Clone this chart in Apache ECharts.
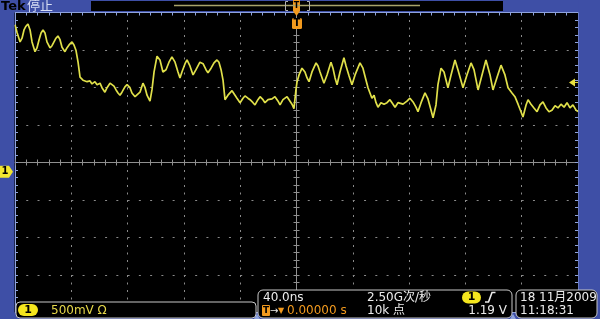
<!DOCTYPE html>
<html>
<head>
<meta charset="utf-8">
<script src="https://cdn.jsdelivr.net/npm/echarts@6/dist/echarts.min.js"></script>
<style>
html,body{margin:0;padding:0;background:#000;}
#c{width:600px;height:319px;}
</style>
</head>
<body>
<div id="c"></div>
<script>
// ---- Channel 1 waveform (time in ns, voltage in V) ----
const timeNs = [
  -200,-198.6,-196.4,-195,-193.6,-192.2,-190.8,-189.3,-187.9,-185.8,-184.4,-182.9,-181.5,-180.1,-178.7,-177.3,-175.1,-173.7,-172.3,-170.9,-169.5,-168,-166.6,-164.5,-163.1,-161.6,-159.5,-158.1,-156.7,-155.2,-153.8,
  -153.1,-151.7,-150.3,-148.8,-146.7,-145.3,-143.2,-141.7,-139.6,-138.2,-136.1,-134.6,-132.5,-131.1,-129.7,-128.2,-126.8,-125.4,-124,-121.9,-120.4,-118.3,-116.9,-114.7,-113.3,-111.2,-109.1,-107.6,-106.2,-104.1,
  -102.7,-101.2,-99.1,-97,-94.9,-92.7,-90.6,-88.5,-86.3,-84.2,-82.8,-81.4,-79.2,-77.8,-75.7,-73.5,-71.4,-68.6,
  -66.4,-64.3,-62.9,-60.7,-58.6,-56.5,-55.1,-53.6,-52.2,-50.8,
  -48.7,-45.8,-43.7,-42.3,-40.1,-38,-36.6,-34.5,-33,-30.9,-29.5,-27.4,-25.9,-23.8,-22.4,-20.2,-17.4,-15.3,-13.1,-11.7,-9.6,-6.7,-4.6,-3.2,-1.8,
  -0.4,0.4,1.8,3.9,6,7.5,8.9,11,13.9,15.3,16.7,19.5,21.7,24.5,25.9,27.4,28.8,30.9,33.7,35.2,37.3,39.4,41.6,45.1,47.2,49.4,50.8,53.6,55.1,56.5,57.9,60,62.2,64.3,66.4,68.6,70,72.1,73.5,
  75.7,78.5,80.6,82.8,84.9,86.3,88.5,91.3,93.4,95.6,97,99.1,100.5,102.7,104.8,107.6,109.8,112.6,114.7,118.3,121.1,124,126.1,129,131.8,134.6,137.5,139.6,142.5,145.3,148.1,150.3,
  153.1,155.2,157.4,159.5,160.9,163.1,164.5,166.6,168.7,170.9,173,175.1,177.3,179.4,181.5,183.7,185.8,187.9,190.1,192.2,194.3,196.4,198.6,200
];
const volts = [
  1.96,1.86,1.73,1.78,1.89,1.94,1.97,1.89,1.73,1.60,1.65,1.76,1.85,1.89,1.85,1.73,1.65,1.68,1.73,1.78,1.81,1.76,1.66,1.60,1.65,1.69,1.73,1.69,1.62,1.46,1.26,
  1.25,1.22,1.24,1.20,1.21,1.17,1.20,1.16,1.18,1.12,1.06,1.12,1.18,1.20,1.14,1.09,1.05,1.02,1.06,1.13,1.16,1.12,1.05,1.00,0.98,1.06,1.18,1.12,1.02,0.94,
  1.09,1.33,1.54,1.49,1.33,1.36,1.46,1.53,1.46,1.33,1.25,1.33,1.44,1.49,1.41,1.29,1.36,1.46,
  1.44,1.36,1.32,1.38,1.45,1.49,1.46,1.36,1.22,0.96,
  1.02,1.08,1.02,0.98,0.92,0.98,1.01,0.98,0.96,0.92,0.89,0.96,1.00,0.96,0.92,0.96,0.97,1.00,0.94,0.89,0.96,1.00,0.94,0.90,0.84,
  1.09,1.20,1.29,1.38,1.33,1.25,1.20,1.33,1.45,1.41,1.33,1.18,1.29,1.46,1.38,1.25,1.16,1.33,1.52,1.41,1.28,1.16,1.29,1.45,1.38,1.22,1.12,0.98,1.02,0.92,0.86,0.92,0.90,0.92,0.96,0.90,0.86,0.92,0.92,
  0.90,0.94,0.98,0.93,0.86,0.80,0.92,1.05,0.97,0.82,0.72,0.89,1.16,1.38,1.33,1.12,1.29,1.49,1.36,1.12,1.29,1.45,1.36,1.09,1.29,1.49,1.29,1.09,1.26,1.42,1.29,1.12,
  1.05,1.00,0.90,0.80,0.73,0.89,0.96,0.90,0.85,0.80,0.89,0.93,0.85,0.80,0.82,0.88,0.85,0.90,0.86,0.92,0.85,0.89,0.82,0.80
];
// ---- scope settings ----
const timePerDiv = 40;      // ns/div
const voltsPerDiv = 0.5;    // V/div
const hDivs = 10, vDivs = 8;
const groundOffsetDiv = 0.245;  // ground marker sits this many divisions below centre
const triggerLevel = 1.19;  // V
const triggerTime = 0;      // ns
// ---- readout texts ----
const topTexts = ['Tek', '停止'];
const chanReadout = ['1', '500mV Ω'];
const horizReadout = ['40.0ns', '0.00000 s', '2.50G次/秒', '10k 点', '1', '1.19 V'];
const dateReadout = ['18 11月2009', '11:18:31'];

(function () {
const FONT = '"DejaVu Sans","Noto Sans CJK SC",sans-serif';
const BLUE = '#3e4fa6', BORDER = '#8ea2dc', GRAT = '#8a8a8a', CENTER = '#909090';
const YEL = '#e0e04a', ORANGE = '#f29a1e';

const chart = echarts.init(document.getElementById('c'), null, {renderer: 'canvas'});
const tMin = -hDivs / 2 * timePerDiv, tMax = hDivs / 2 * timePerDiv;
const vMin = -vDivs / 2 * voltsPerDiv + groundOffsetDiv * voltsPerDiv;
const vMax = vDivs / 2 * voltsPerDiv + groundOffsetDiv * voltsPerDiv;
const minorPerDiv = 5;
const yMinor = vDivs / 2 * minorPerDiv;

function xAx(extra) {
  return Object.assign({type: 'value', min: tMin, max: tMax, interval: timePerDiv / minorPerDiv,
    axisLabel: {show: false}, splitLine: {show: false}}, extra);
}
function yAx(extra) {
  return Object.assign({type: 'value', min: -yMinor, max: yMinor, interval: 1,
    axisLabel: {show: false}, splitLine: {show: false}}, extra);
}
const tickStyle = (c) => ({show: true, inside: true, length: 3, lineStyle: {color: c, width: 1}});

const option = {
  animation: false,
  backgroundColor: '#000',
  grid: {left: 15, right: 22, top: 12.5, bottom: 6.5, show: false, containLabel: false, outerBoundsMode: 'none'},
  xAxis: [
    xAx({interval: timePerDiv, position: 'bottom', axisLine: {show: false, onZero: false}, axisTick: {show: false},
      splitLine: {show: true, lineStyle: {color: GRAT, width: 1, type: [2, 5.5]}}}),
    xAx({position: 'top', axisLine: {show: true, onZero: false, lineStyle: {color: BORDER}}, axisTick: tickStyle(BORDER)}),
    xAx({position: 'bottom', axisLine: {show: true, onZero: false, lineStyle: {color: BORDER}}, axisTick: tickStyle(BORDER)}),
    xAx({position: 'bottom', axisLine: {show: true, onZero: true, onZeroAxisIndex: 0, lineStyle: {color: CENTER}}, axisTick: tickStyle(CENTER)}),
    xAx({position: 'top', axisLine: {show: false, onZero: true, onZeroAxisIndex: 0}, axisTick: tickStyle(CENTER)})
  ],
  yAxis: [
    yAx({interval: minorPerDiv, position: 'left', axisLine: {show: false, onZero: false}, axisTick: {show: false},
      splitLine: {show: true, lineStyle: {color: GRAT, width: 1, type: [2, 9.26]}}}),
    {type: 'value', min: vMin, max: vMax, show: false, position: 'left', axisLine: {onZero: false}},
    yAx({position: 'left', axisLine: {show: true, onZero: false, lineStyle: {color: BORDER}}, axisTick: tickStyle(BORDER)}),
    yAx({position: 'right', axisLine: {show: true, onZero: false, lineStyle: {color: BORDER}}, axisTick: tickStyle(BORDER)}),
    yAx({position: 'left', axisLine: {show: true, onZero: true, onZeroAxisIndex: 0, lineStyle: {color: CENTER}}, axisTick: tickStyle(CENTER)}),
    yAx({position: 'right', axisLine: {show: false, onZero: true, onZeroAxisIndex: 0}, axisTick: tickStyle(CENTER)})
  ],
  series: [{
    type: 'line', xAxisIndex: 0, yAxisIndex: 1, showSymbol: false, symbol: 'none', z: 5,
    lineStyle: {color: YEL, width: 1.7},
    data: timeNs.map((t, i) => [t, volts[i]])
  }]
};
chart.setOption(option);

const gy = chart.convertToPixel({yAxisIndex: 1}, 0);
const ty = chart.convertToPixel({yAxisIndex: 1}, triggerLevel);
const tx = chart.convertToPixel({xAxisIndex: 0}, triggerTime);
const pLeft = chart.convertToPixel({xAxisIndex: 0}, tMin);
const pRight = chart.convertToPixel({xAxisIndex: 0}, tMax);
const pTop = chart.convertToPixel({yAxisIndex: 1}, vMax);
const pBottom = chart.convertToPixel({yAxisIndex: 1}, vMin);

function txt(x, y, s, o) {
  o = o || {};
  return {type: 'text', x: x, y: y, z: 110, style: {text: s, fill: o.fill || '#ececec',
    fontSize: o.size || 12, fontFamily: FONT, fontWeight: o.weight || 'normal',
    align: o.align || 'left', textAlign: o.align || 'left', verticalAlign: 'middle', textVerticalAlign: 'middle'}};
}
function rect(x, y, w, h, fill, stroke, r, z) {
  return {type: 'rect', z: z || 100, shape: {x: x, y: y, width: w, height: h, r: r || 0},
    style: {fill: fill, stroke: stroke || null, lineWidth: 1}};
}
function poly(points, fill) {
  return {type: 'polygon', z: 105, shape: {points: points}, style: {fill: fill}};
}

const g = [
  // blue frame around the graticule
  rect(0, 0, 600, pTop - 0.5, BLUE, null, 0, 90),
  rect(0, 0, pLeft - 0.5, 319, BLUE, null, 0, 90),
  rect(pRight + 0.5, 0, 600 - pRight, 319, BLUE, null, 0, 90),
  rect(0, pBottom + 0.5, 600, 319 - pBottom, BLUE, null, 0, 90),
  // top status bar
  txt(1, 7, topTexts[0], {fill: '#000', size: 13, weight: 'bold'}),
  txt(27, 7, topTexts[1], {fill: '#d8def5', size: 13}),
  rect(91, 1, 412, 10, '#000'),
  {type: 'line', z: 101, shape: {x1: 174, y1: 5.5, x2: 420, y2: 5.5}, style: {stroke: '#a9a36a', lineWidth: 1.5}},
  {type: 'polyline', z: 101, shape: {points: [[288, 1.5], [285.5, 1.5], [285.5, 10.5], [288, 10.5]]}, style: {stroke: '#b0b0b0', lineWidth: 1, fill: null}},
  {type: 'polyline', z: 101, shape: {points: [[307, 1.5], [309.5, 1.5], [309.5, 10.5], [307, 10.5]]}, style: {stroke: '#b0b0b0', lineWidth: 1, fill: null}},
  rect(tx - 3.5, 0, 7, 11, ORANGE),
  txt(tx, 5.5, 'T', {fill: '#000', size: 8, weight: 'bold', align: 'center'}),
  poly([[tx - 3.5, 11], [tx + 3.5, 11], [tx, 16]], ORANGE),
  // trigger position badge
  rect(tx - 4.5, 18, 10, 11, ORANGE, null, 1.5),
  txt(tx + 0.5, 23.5, 'T', {fill: '#000', size: 10, weight: 'bold', align: 'center'}),
  // trigger level arrow
  poly([[569, ty], [575, ty - 4], [575, ty + 4]], '#e8e040'),
  {type: 'line', z: 105, shape: {x1: 575, y1: ty, x2: 578, y2: ty}, style: {stroke: '#e8e040', lineWidth: 1}},
  // ground marker
  poly([[0, gy - 6], [9, gy - 6], [13, gy], [9, gy + 6], [0, gy + 6]], '#f2e630'),
  txt(5, gy, chanReadout[0], {fill: '#000', size: 10, weight: 'bold', align: 'center'}),
  // bottom readouts
  rect(16, 302, 240, 16, '#000', '#c8c8c8', 4),
  rect(18, 304, 20, 12, '#f5e61e', null, 6),
  txt(28, 310.5, chanReadout[0], {fill: '#000', size: 11, weight: 'bold', align: 'center'}),
  txt(51, 310.5, chanReadout[1], {fill: '#e6d84a'}),
  rect(258, 290, 254, 28, '#000', '#c8c8c8', 5),
  rect(516, 290, 81, 28, '#000', '#c8c8c8', 5),
  poly([[254, 319], [257, 314], [260, 319]], BORDER),
  poly([[510, 319], [513, 314], [516, 319]], BORDER),
  txt(263, 297.5, horizReadout[0]),
  rect(262, 305, 8, 11, ORANGE, null, 1),
  txt(266, 310.5, 'T', {fill: '#000', size: 9, weight: 'bold', align: 'center'}),
  txt(270, 311, '→', {size: 10}),
  txt(278, 311, '▼', {size: 8, fill: ORANGE}),
  txt(287, 311, horizReadout[1], {fill: ORANGE}),
  txt(367, 297.5, horizReadout[2]),
  txt(367, 311, horizReadout[3]),
  rect(462, 291.5, 19, 12, '#f5e61e', null, 6),
  txt(471.5, 297.5, horizReadout[4], {fill: '#000', size: 11, weight: 'bold', align: 'center'}),
  {type: 'polyline', z: 105, shape: {points: [[485, 302], [488.5, 302], [492, 292.5], [495.5, 292.5]]}, style: {stroke: '#ececec', lineWidth: 1.6, fill: null}},
  txt(507, 311, horizReadout[5], {align: 'right'}),
  txt(520, 297.5, dateReadout[0]),
  txt(520, 311, dateReadout[1])
];
chart.setOption({graphic: g});
})();
</script>
</body>
</html>
